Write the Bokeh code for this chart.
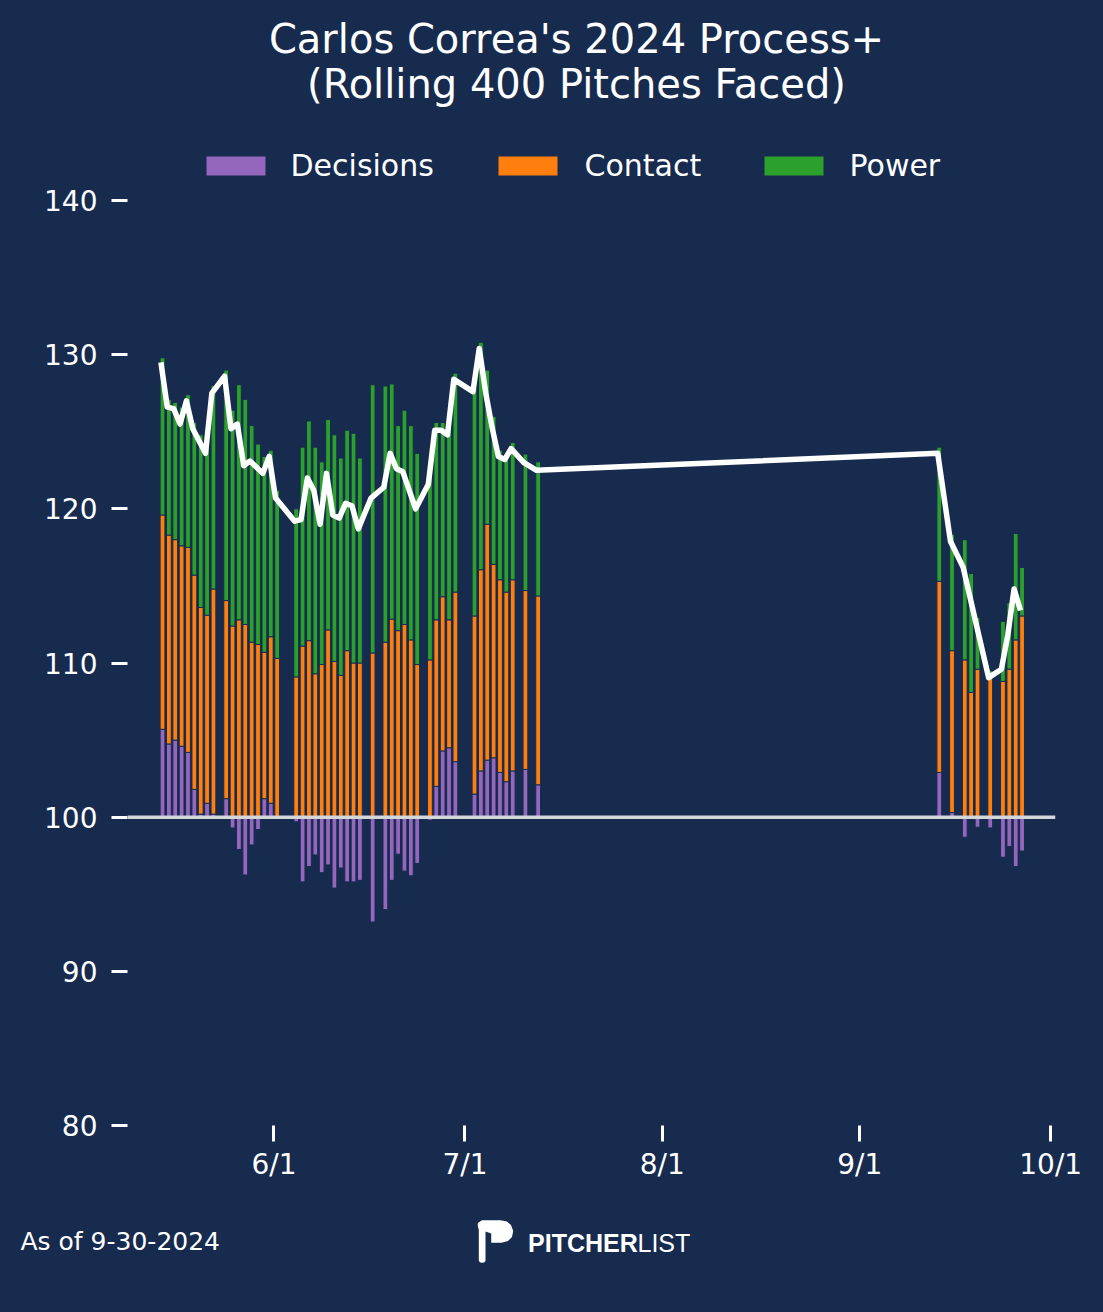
import pandas as pd
from bokeh.plotting import figure
from bokeh.layouts import column
from bokeh.core.properties import value
from bokeh.models import (ColumnDataSource, Range1d, FixedTicker, Span,
                          GlobalInlineStyleSheet)
from bokeh.embed import file_html
from bokeh.resources import INLINE

# ---------------- data ----------------
dates = ["2024-05-14", "2024-05-15", "2024-05-16", "2024-05-17", "2024-05-18",
         "2024-05-19", "2024-05-20", "2024-05-21", "2024-05-22", "2024-05-24",
         "2024-05-25", "2024-05-26", "2024-05-27", "2024-05-28", "2024-05-29",
         "2024-05-30", "2024-05-31", "2024-06-01", "2024-06-04", "2024-06-05",
         "2024-06-06", "2024-06-07", "2024-06-08", "2024-06-09", "2024-06-10",
         "2024-06-11", "2024-06-12", "2024-06-13", "2024-06-14", "2024-06-16",
         "2024-06-18", "2024-06-19", "2024-06-20", "2024-06-21", "2024-06-22",
         "2024-06-23", "2024-06-25", "2024-06-26", "2024-06-27", "2024-06-28",
         "2024-06-29", "2024-07-02", "2024-07-03", "2024-07-04", "2024-07-05",
         "2024-07-06", "2024-07-07", "2024-07-08", "2024-07-10", "2024-07-12",
         "2024-09-13", "2024-09-15", "2024-09-17", "2024-09-18", "2024-09-19",
         "2024-09-21", "2024-09-23", "2024-09-24", "2024-09-25", "2024-09-26"]

decisions = [105.7, 104.75, 105.0, 104.6, 104.2, 101.8, 100.2, 100.9, 100.2, 101.2,
             99.3, 97.9, 96.25, 98.2, 99.2, 101.2, 100.9, 100.0, 99.7, 95.8,
             96.8, 97.55, 96.4, 96.9, 95.4, 96.7, 95.8, 95.8, 95.9, 93.2,
             94.0, 95.9, 97.6, 96.5, 96.2, 97.0, 99.8, 102.0, 104.3, 104.5,
             103.6, 101.5, 103.0, 103.7, 103.85, 102.9, 102.3, 103.0, 103.1, 102.1,
             102.9, 100.3, 98.7, 99.85, 99.35, 99.3, 97.4, 98.1, 96.8, 97.8]

contact = [119.6, 118.3, 118.0, 117.6, 117.5, 115.7, 113.6, 113.1, 114.8, 114.05,
           112.4, 112.8, 112.5, 111.35, 111.2, 110.7, 111.7, 110.3, 109.1, 111.1,
           111.45, 109.3, 109.9, 112.15, 110.1, 109.2, 110.8, 110.0, 110.0, 110.65,
           111.35, 112.85, 112.1, 112.5, 111.5, 109.9, 110.2, 112.8, 114.3, 112.8,
           114.6, 113.05, 116.05, 119.0, 116.4, 115.4, 114.6, 115.4, 114.7, 114.35,
           115.3, 110.8, 110.2, 108.1, 109.6, 109.1, 108.8, 109.6, 111.5, 113.05]

power = [129.8, 127.1, 126.9, 126.6, 127.4, 125.6, 124.8, 124.1, 128.0, 129.0,
         126.4, 128.05, 127.1, 125.4, 124.2, 123.4, 123.8, 121.2, 120.0, 124.0,
         125.7, 124.0, 123.05, 125.8, 124.8, 123.3, 125.1, 124.9, 123.3, 128.05,
         127.97, 128.1, 125.4, 126.4, 125.4, 123.6, 122.5, 125.6, 125.6, 125.3,
         128.8, 127.9, 130.8, 129.0, 126.0, 123.8, 123.4, 124.3, 123.55, 123.05,
         124.0, 118.35, 118.0, 115.8, 112.95, 109.5, 112.7, 113.9, 118.4, 116.2]

process_plus = [129.5, 126.6, 126.5, 125.5, 127.0, 125.2, 124.4, 123.6, 127.5, 128.6,
                125.2, 125.5, 122.8, 123.1, 122.7, 122.3, 123.4, 120.7, 119.2, 119.3,
                122.0, 121.2, 119.0, 122.3, 119.6, 119.4, 120.35, 120.2, 118.7, 120.7,
                121.4, 123.6, 122.6, 122.4, 121.2, 120.0, 121.6, 125.1, 125.1, 124.8,
                128.4, 127.6, 130.4, 127.55, 125.3, 123.4, 123.2, 123.9, 123.0, 122.5,
                123.6, 117.9, 116.2, 114.4, 112.6, 109.05, 109.6, 111.8, 114.8, 113.4]

series_names = ["Decisions", "Contact", "Power"]
series_colors = ["#9467bd", "#ff7f0e", "#2ca02c"]

x_tick_dates = ["2024-06-01", "2024-07-01", "2024-08-01", "2024-09-01", "2024-10-01"]
x_tick_labels = ["6/1", "7/1", "8/1", "9/1", "10/1"]
y_ticks = [80, 90, 100, 110, 120, 130, 140]

title_lines = ["Carlos Correa's 2024 Process+", "(Rolling 400 Pitches Faced)"]
footnote = "As of 9-30-2024"

BG = "#172b4f"
FONT = "DejaVu Sans"
W = 1100

# ---------------- main chart (frame runs from the page top down to y=80) ----------------
df = pd.DataFrame({"date": pd.to_datetime(dates), "dec": decisions,
                   "con": contact, "pow": power, "proc": process_plus})
df["xbar"] = df["date"] + pd.Timedelta(hours=12)
df["xline"] = df["date"] + pd.Timedelta(hours=6)
df["base"] = 100.0
df["con_bottom"] = df["dec"].clip(lower=100)
src = ColumnDataSource(df)

day_ms = 86400000
frame_h = 1125                       # 80 sits at the frame bottom, 140 at 200 px
y_top = 80 + frame_h * 60 / 925
p = figure(width=W, height=1190, x_axis_type="datetime",
           x_range=Range1d(pd.Timestamp("2024-05-09"), pd.Timestamp("2024-10-01 18:00")),
           y_range=Range1d(80, y_top),
           output_backend="svg", toolbar_location=None, title_location=None,
           min_border_left=127, min_border_right=W - 1055,
           min_border_top=0, min_border_bottom=65)
p.background_fill_color = BG
p.border_fill_color = BG
p.outline_line_color = None
p.grid.visible = False
p.frame_align = False
# page-pixel ranges for the heading texts
p.extra_x_ranges = {"px": Range1d(127, 1055)}
p.extra_y_ranges = {"page": Range1d(frame_h, 0)}

bar_w = 0.75 * day_ms
p.vbar(x="xbar", bottom="base", top="dec", width=bar_w, source=src,
       fill_color=series_colors[0], line_color=BG, line_width=1)
p.vbar(x="xbar", bottom="con_bottom", top="con", width=bar_w, source=src,
       fill_color=series_colors[1], line_color=BG, line_width=1)
p.vbar(x="xbar", bottom="con", top="pow", width=bar_w, source=src,
       fill_color=series_colors[2], line_color=BG, line_width=1)

p.add_layout(Span(location=100, dimension="width", line_color="#d3d6db",
                  line_width=3.5))

p.line(x="xline", y="proc", source=src, line_color="white", line_width=5.5,
       line_join="round")

tick_ms = [pd.Timestamp(d).value / 1e6 for d in x_tick_dates]
p.xaxis.ticker = FixedTicker(ticks=tick_ms)
p.xaxis.major_label_overrides = dict(zip(tick_ms, x_tick_labels))
p.yaxis.ticker = FixedTicker(ticks=y_ticks)

for ax in (p.xaxis, p.yaxis):
    ax.axis_line_color = None
    ax.major_tick_line_color = "white"
    ax.major_tick_line_width = 3
    ax.major_tick_out = 16
    ax.major_tick_in = 0
    ax.minor_tick_line_color = None
    ax.major_label_text_color = "white"
    ax.major_label_text_font = FONT
    ax.major_label_text_font_size = "28px"
p.yaxis.major_label_standoff = 14
p.xaxis.major_label_standoff = 6

# title + legend
p.text(x=[576, 576], y=[38, 83], text=title_lines, text_color="white",
       text_font=value(FONT), text_font_size=value("40px"),
       text_align="center", text_baseline="alphabetic",
       x_range_name="px", y_range_name="page")
p.quad(left=[206, 498, 764], right=[265, 557, 823], top=[156] * 3, bottom=[175] * 3,
       fill_color=series_colors, line_color=None,
       x_range_name="px", y_range_name="page")
p.text(x=[290, 584, 849], y=[165] * 3, text=series_names, text_color="white",
       text_font=value(FONT), text_font_size=value("30px"),
       text_baseline="alphabetic", x_range_name="px", y_range_name="page")

# ---------------- footer: date note + Pitcher List mark ----------------
ftr = figure(width=W, height=118, x_range=Range1d(0, W), y_range=Range1d(1308, 1190),
             output_backend="svg", toolbar_location=None, title_location=None,
             x_axis_location=None, y_axis_location=None,
             min_border=0, min_border_left=0, min_border_right=0,
             min_border_top=0, min_border_bottom=0)
ftr.background_fill_color = BG
ftr.border_fill_color = BG
ftr.outline_line_color = None
ftr.grid.visible = False
ftr.frame_align = False

ftr.text(x=[20], y=[1241], text=[footnote], text_color="white",
         text_font=value(FONT), text_font_size=value("25px"),
         text_baseline="alphabetic")
ftr.patch(x=[477.3, 481.5, 500, 506.5, 510.5, 512.7, 511.5, 507.5, 501, 490.7,
             490.7, 485, 485, 483.5, 481.7, 479.8, 478.3, 478.3, 477.3],
          y=[1222.5, 1219.7, 1219.7, 1221, 1224.5, 1230.5, 1236.5, 1240.5, 1242.3, 1242.3,
             1233, 1231, 1260.5, 1262, 1262.3, 1262, 1260.5, 1229, 1226],
          fill_color="white", line_color=None)
ftr.text(x=[527.6], y=[1242.7], text=["PITCHER"], text_color="white",
         text_font=value("Liberation Sans"), text_font_style="bold",
         text_font_size=value("25px"), text_baseline="alphabetic")
ftr.text(x=[637], y=[1242.7], text=["LIST"], text_color="white",
         text_font=value("Liberation Sans"), text_font_size=value("25px"),
         text_baseline="alphabetic")

layout = column(p, ftr, spacing=0)
layout.stylesheets = [GlobalInlineStyleSheet(css="body { background: %s; margin: 0; }" % BG)]

open("out.html", "w").write(file_html(layout, INLINE))
